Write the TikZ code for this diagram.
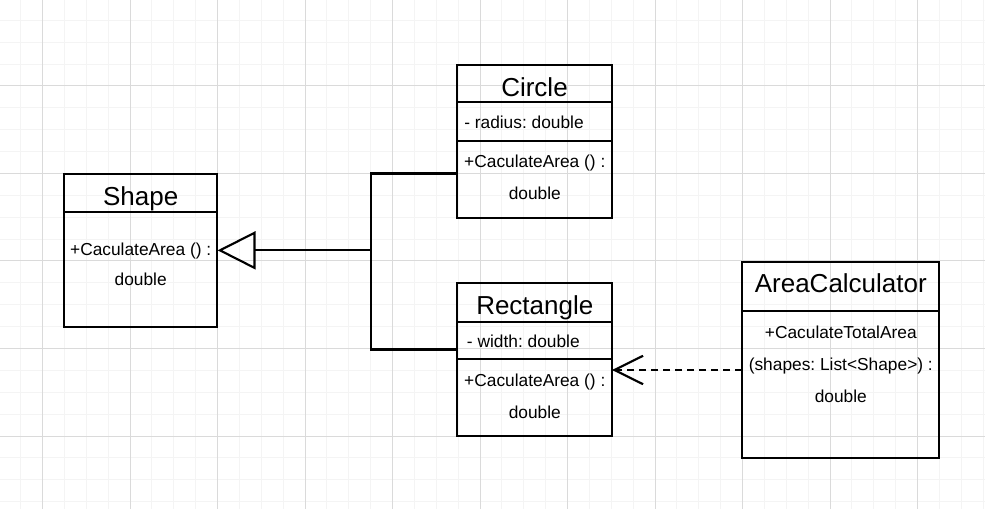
\documentclass[tikz,border=0pt]{standalone}
\usepackage{fontspec}
\setmainfont{Liberation Sans}
\usetikzlibrary{fit,arrows.meta}
\definecolor{gridminor}{RGB}{244,244,244}
\definecolor{gridmajor}{RGB}{218,218,218}
\frenchspacing
\begin{document}
\begin{tikzpicture}[x=0.75pt,y=-0.75pt,
  box/.style={draw=black,line width=1.6pt,inner sep=0pt},
  outline/.style={inner sep=0pt},
  titletext/.style={anchor=base,font=\fontsize{19.5}{23}\selectfont,inner sep=0pt},
  bodytext/.style={anchor=base,font=\fontsize{13}{16}\selectfont,inner sep=0pt},
  bodyleft/.style={bodytext,anchor=base west},
  conn/.style={line width=1.6pt,black},
  inherit/.style={conn,-{Triangle[open,length=28.5pt,width=28.5pt]}},
  depend/.style={conn,dash pattern=on 5.25pt off 3.75pt,-{Straight Barb[length=21.5pt,width=21.3pt]}},
  gminor/.style={gridminor,line width=0.75pt},
  gmajor/.style={gridmajor,line width=0.75pt}
]
\useasboundingbox (0,0) rectangle (985,509);
\fill[white] (0,0) rectangle (985,509);
% grid
\foreach \k in {-1,...,43}{\draw[gminor] ({42.5+\k*21.875},0) -- ({42.5+\k*21.875},509);}
\foreach \k in {-3,...,19}{\draw[gminor] (0,{86+\k*21.875}) -- (985,{86+\k*21.875});}
\foreach \k in {0,...,10}{\draw[gmajor] ({42.5+\k*87.5},0) -- ({42.5+\k*87.5},509);}
\foreach \k in {0,...,4}{\draw[gmajor] (0,{86+\k*87.5}) -- (985,{86+\k*87.5});}

% Shape
\node[outline,fit={(64,174) (217.3,326.7)}] (shape) {};
\node[box,fit={(64,174) (217.3,212.3)}] (shapeT) {};
\node[box,fit={(64,212.3) (217.3,326.7)}] (shapeB) {};
\node[titletext] (shapeTt) at (140.7,206) {Shape};
\node[bodytext] (shapeB1) at (140.7,255.6) {+CaculateArea () :};
\node[bodytext] (shapeB2) at (140.7,285.6) {double};

% Circle
\node[outline,fit={(457.3,64.7) (611.7,217.7)}] (circle) {};
\node[box,fit={(457.3,64.7) (611.7,102.3)}] (circleT) {};
\node[box,fit={(457.3,102.3) (611.7,140.7)}] (circleA) {};
\node[box,fit={(457.3,140.7) (611.7,217.7)}] (circleO) {};
\node[titletext] (circleTt) at (534.5,96.1) {Circle};
\node[bodyleft] (circleA1) at (464,129) {- radius: double};
\node[bodytext] (circleO1) at (534.8,167.3) {+CaculateArea () :};
\node[bodytext] (circleO2) at (534.8,199.6) {double};

% Rectangle
\node[outline,fit={(457.3,283.3) (611.7,436)}] (rect) {};
\node[box,fit={(457.3,283.3) (611.7,321.7)}] (rectT) {};
\node[box,fit={(457.3,321.7) (611.7,359.3)}] (rectA) {};
\node[box,fit={(457.3,359.3) (611.7,436)}] (rectO) {};
\node[titletext] (rectTt) at (534.8,314.4) {Rectangle};
\node[bodyleft] (rectA1) at (466.7,348) {- width: double};
\node[bodytext] (rectO1) at (534.8,386.3) {+CaculateArea () :};
\node[bodytext] (rectO2) at (534.8,418) {double};

% AreaCalculator
\node[outline,fit={(742.3,261.7) (939.3,458.3)}] (calc) {};
\node[box,fit={(742.3,261.7) (939.3,311)}] (calcT) {};
\node[box,fit={(742.3,311) (939.3,458.3)}] (calcB) {};
\node[titletext] (calcTt) at (840.8,292.7) {AreaCalculator};
\node[bodytext] (calcB1) at (840.8,339) {+CaculateTotalArea};
\node[bodytext] (calcB2) at (840.8,370.3) {(shapes: List<Shape>) :};
\node[bodytext] (calcB3) at (840.8,402.3) {double};

% connectors
\coordinate (jTop) at (370.7,173.5);
\coordinate (jBot) at (370.7,349.5);
\coordinate (dep) at (680,370);
\draw[conn] (circle.west |- jTop) -- (jTop) -- (jBot) -- (rect.west |- jBot);
\draw[inherit] (jTop |- shape.east) -- (shape.east);
\draw[depend] (calc.west |- dep) -- (rect.east |- dep);
\end{tikzpicture}
\end{document}
